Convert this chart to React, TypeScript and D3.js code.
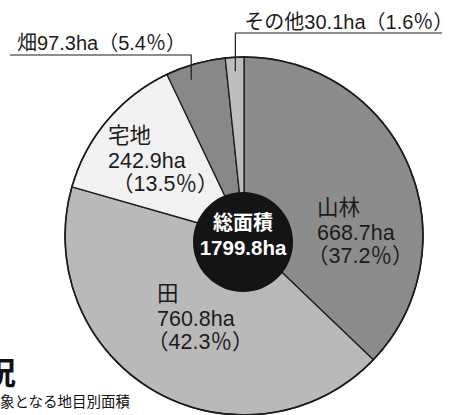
import React from 'react'
import * as d3 from 'd3'

// land use categories (clockwise from 12 o'clock)
const categories = ['山林', '田', '宅地', '畑', 'その他']
const areas = [668.7, 760.8, 242.9, 97.3, 30.1]
const shares = ['37.2', '42.3', '13.5', '5.4', '1.6']
const totalLabel = '総面積'
const totalValue = '1799.8ha'

const W = 453
const H = 415
const cx = 244
const cy = 236
const R = 179
const holeR = 50

const fills = ['#8c8c8c', '#b9b9b9', '#f1f1f1', '#888888', '#bdbdbd']
const ink = '#1c1c1c'
const font = '"Liberation Sans", Arial, "Noto Sans CJK JP", sans-serif'

// inside labels: offset of first baseline relative to pie center
const inside: { [k: number]: { dx: number; dy: number; pdx: number } } = {
  0: { dx: 73, dy: -21, pdx: -10 },
  1: { dx: -87, dy: 65, pdx: -10 },
  2: { dx: -136, dy: -93, pdx: 4 },
}

export default function App() {
  const pie = d3.pie<number>().sort(null).value(d => d)
  const arcs = pie(areas)
  const arc = d3.arc<d3.PieArcDatum<number>>().innerRadius(0).outerRadius(R)

  const pointAt = (a: d3.PieArcDatum<number>, frac: number, r: number) => {
    const ang = a.startAngle + (a.endAngle - a.startAngle) * frac
    return [cx + r * Math.sin(ang), cy - r * Math.cos(ang)]
  }

  // leader lines for the small slices
  const [hx, hy] = pointAt(arcs[3], 0.35, 165)
  const [ox, oy] = pointAt(arcs[4], 0.5, 165)
  const hLineY = 55
  const oLineY = 33

  return (
    <svg width={W} height={H} style={{ position: 'absolute', left: 0, top: 0, background: '#fff' }}
      fontFamily={font}>
      <g transform={`translate(${cx},${cy})`}>
        {arcs.map((a, i) => (
          <path key={categories[i]} d={arc(a) || ''} fill={fills[i]} stroke={ink} strokeWidth={1.3} />
        ))}
        <circle r={R} fill="none" stroke={ink} strokeWidth={1.6} />
      </g>
      <circle cx={cx - 1} cy={cy + 6} r={holeR} fill="#141414" />
      <text x={cx - 1} y={cy - 6} textAnchor="middle" fill="#fff" fontSize={20} fontWeight="bold">{totalLabel}</text>
      <text x={cx - 1} y={cy + 19} textAnchor="middle" fill="#fff" fontSize={20.5} fontWeight="bold">{totalValue}</text>

      {[0, 1, 2].map(i => {
        const p = inside[i]
        const x = cx + p.dx
        const y = cy + p.dy
        return (
          <g key={categories[i]} fill={ink} fontSize={21.5}>
            <text x={x} y={y}>{categories[i]}</text>
            <text x={x} y={y + 25}>{areas[i].toFixed(1)}ha</text>
            <text x={x + p.pdx} y={y + 48}>（{shares[i]}％）</text>
          </g>
        )
      })}

      <g stroke={ink} strokeWidth={1.2} fill="none">
        <polyline points={`10,${hLineY} ${hx},${hLineY} ${hx},${hy}`} />
        <polyline points={`442,${oLineY} ${ox},${oLineY} ${ox},${oy}`} />
      </g>
      <text x={17} y={hLineY - 5} fill={ink} fontSize={20}>{categories[3]}{areas[3].toFixed(1)}ha（{shares[3]}％）</text>
      <text x={ox + 9} y={oLineY - 4} fill={ink} fontSize={20}>{categories[4]}{areas[4].toFixed(1)}ha（{shares[4]}％）</text>

      <text x={-15} y={384} fill="#111" fontSize={31} fontWeight="bold" fontFamily='"Noto Sans CJK JP", sans-serif'>況</text>
      <text x={0} y={407} fill="#111" fontSize={14.5} fontFamily='"Noto Sans CJK JP", sans-serif'>象となる地目別面積</text>
    </svg>
  )
}
